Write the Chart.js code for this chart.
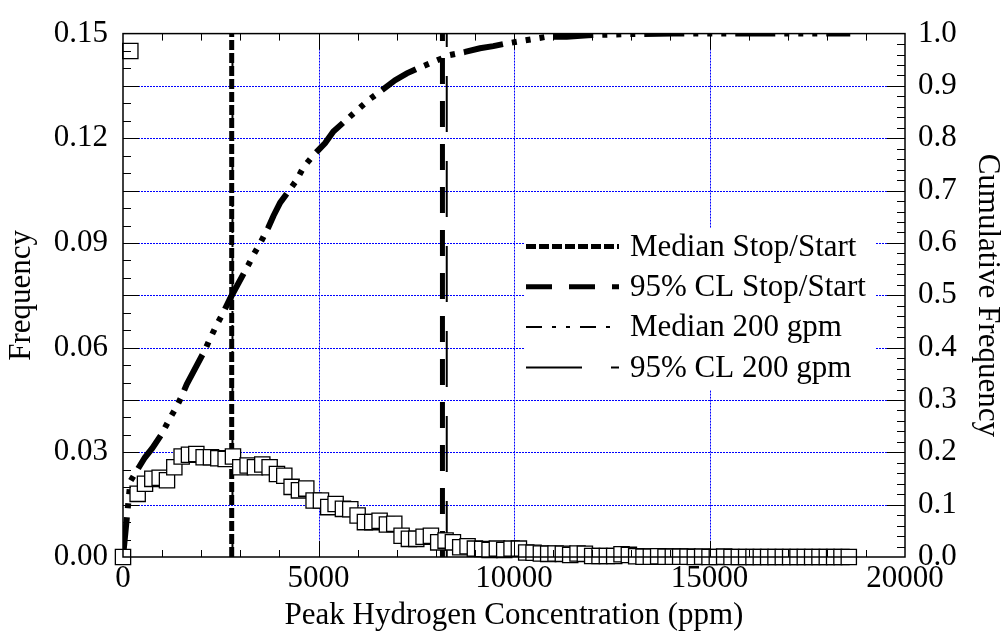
<!DOCTYPE html>
<html>
<head>
<meta charset="utf-8">
<script src="https://cdn.jsdelivr.net/npm/chart.js@4.4.1/dist/chart.umd.min.js"></script>
<style>
  html, body { margin: 0; padding: 0; background: #fff; }
  #wrap { width: 1008px; height: 637px; }
</style>
</head>
<body>
<div id="wrap"><canvas id="grafico" width="1008" height="637"></canvas></div>
<script>
// bins de concentracion (ppm)
var binCenters = [
    0, 187.5, 375, 562.5, 750, 937.5, 1125, 1312.5, 1500, 1687.5,
    1875, 2062.5, 2250, 2437.5, 2625, 2812.5, 3000, 3187.5, 3375, 3562.5,
    3750, 3937.5, 4125, 4312.5, 4500, 4687.5, 4875, 5062.5, 5250, 5437.5,
    5625, 5812.5, 6000, 6187.5, 6375, 6562.5, 6750, 6937.5, 7125, 7312.5,
    7500, 7687.5, 7875, 8062.5, 8250, 8437.5, 8625, 8812.5, 9000, 9187.5,
    9375, 9562.5, 9750, 9937.5, 10125, 10312.5, 10500, 10687.5, 10875, 11062.5,
    11250, 11437.5, 11625, 11812.5, 12000, 12187.5, 12375, 12562.5, 12750, 12937.5,
    13125, 13312.5, 13500, 13687.5, 13875, 14062.5, 14250, 14437.5, 14625, 14812.5,
    15000, 15187.5, 15375, 15562.5, 15750, 15937.5, 16125, 16312.5, 16500, 16687.5,
    16875, 17062.5, 17250, 17437.5, 17625, 17812.5, 18000, 18187.5, 18375, 18562.5
];
var frequency = [
    0, 0.145, 0.0181, 0.021, 0.0224, 0.0227, 0.022, 0.0257, 0.0288, 0.0293,
    0.0295, 0.0286, 0.0286, 0.0283, 0.0281, 0.0288, 0.0257, 0.0262, 0.0257, 0.0265,
    0.0257, 0.0238, 0.0233, 0.0201, 0.0191, 0.0196, 0.0162, 0.0162, 0.0143, 0.0152,
    0.0138, 0.0137, 0.0119, 0.0100, 0.0100, 0.0104, 0.0093, 0.0095, 0.0061, 0.0052,
    0.0052, 0.0058, 0.0061, 0.0042, 0.0047, 0.0042, 0.0028, 0.0031, 0.0024, 0.0023,
    0.0020, 0.0024, 0.0020, 0.0024, 0.0024, 0.0013, 0.0012, 0.0010, 0.0009, 0.0010,
    0.0009, 0.0006, 0.0010, 0.0009, 0.0003, 0.0003, 0.0003, 0.0003, 0.0008, 0.0006,
    0.0002, 0.0001, 0.0001, 0.0002, 0.0001, 0.0001, 0.0001, 0.0001, 0, 0.0001,
    0, 0, 0.0001, 0, 0, 0, 0, 0, 0, 0,
    0, 0, 0, 0, 0, 0, 0, 0, 0, 0
];
// curva acumulada
var cumulX = [0, 190, 330, 560, 750, 990, 1200, 1355, 1500, 1630, 2100, 2230, 2400, 2550, 2740,
    3200, 3350, 3520, 3720, 3850, 4020, 4440, 4610, 4850, 5170, 5380, 6280, 6570, 6960, 7260,
    7550, 8360, 8750, 9130, 9470, 9730, 10840, 11350, 11890, 12880, 14070, 18600];
var cumulY = [0, 0.145, 0.162, 0.19, 0.208, 0.235, 0.265, 0.285, 0.307, 0.33, 0.396, 0.418, 0.444, 0.465, 0.494,
    0.557, 0.579, 0.601, 0.63, 0.652, 0.677, 0.72, 0.744, 0.766, 0.791, 0.813, 0.873, 0.889, 0.911, 0.924,
    0.934, 0.959, 0.965, 0.972, 0.976, 0.98, 0.994, 0.994, 0.997, 0.999, 1.0, 1.0];

var medianStopStart = 2780;
var cl95StopStart = 8170;
var median200 = 2800;
var cl95_200 = 8280;

var xTickValues = [0, 5000, 10000, 15000, 20000];
var freqTickValues = [0, 0.03, 0.06, 0.09, 0.12, 0.15];
var cumTickValues = [0, 0.1, 0.2, 0.3, 0.4, 0.5, 0.6, 0.7, 0.8, 0.9, 1.0];

var fuente = '"Liberation Serif", "Times New Roman", serif';
var tam = 31;

function vertical(x) {
    return [{ x: x, y: 0 }, { x: x, y: 1 }];
}

function linea(ctx, x1, y1, x2, y2) {
    ctx.beginPath();
    ctx.moveTo(x1, y1);
    ctx.lineTo(x2, y2);
    ctx.stroke();
}

var decoracion = {
    id: 'decoracion',
    beforeDatasetsDraw: function (chart) {
        var ctx = chart.ctx, a = chart.chartArea;
        var sx = chart.scales.x, sy = chart.scales.y;
        ctx.save();
        ctx.strokeStyle = '#0000ff';
        ctx.lineWidth = 1;
        ctx.setLineDash([2, 1]);
        for (var k = 1; k < 10; k++) {
            var py = Math.round(sy.getPixelForValue(k * 0.015)) + 0.5;
            linea(ctx, a.left, py, a.right, py);
        }
        [5000, 10000, 15000].forEach(function (v) {
            var px = Math.round(sx.getPixelForValue(v)) + 0.5;
            linea(ctx, px, a.top, px, a.bottom);
        });
        ctx.restore();
    },
    afterDatasetsDraw: function (chart) {
        var ctx = chart.ctx, a = chart.chartArea;
        var sx = chart.scales.x, sy = chart.scales.y, sy1 = chart.scales.y1;
        ctx.save();
        ctx.strokeStyle = '#000';
        ctx.lineWidth = 1;
        ctx.setLineDash([]);
        // marcas eje x (arriba y abajo)
        for (var v = 1000; v < 20000; v += 1000) {
            var px = Math.round(sx.getPixelForValue(v)) + 0.5;
            var l = (v % 5000 === 0) ? 16 : 7;
            linea(ctx, px, a.bottom, px, a.bottom - l);
            linea(ctx, px, a.top, px, a.top + l);
        }
        // marcas eje izquierdo
        for (var k = 1; k < 30; k++) {
            var py = Math.round(sy.getPixelForValue(k * 0.005)) + 0.5;
            linea(ctx, a.left, py, a.left + (k % 3 === 0 ? 16 : 8), py);
        }
        // marcas eje derecho
        for (var j = 1; j < 50; j++) {
            var py2 = Math.round(sy1.getPixelForValue(j * 0.02)) + 0.5;
            linea(ctx, a.right, py2, a.right - (j % 5 === 0 ? 18 : 8), py2);
        }
        ctx.lineWidth = 1.5;
        ctx.strokeRect(a.left, a.top, a.right - a.left, a.bottom - a.top);

        // leyenda
        ctx.fillStyle = '#fff';
        ctx.fillRect(524, 228, 352, 162);
        ctx.font = tam + 'px ' + fuente;
        ctx.textBaseline = 'middle';
        ctx.textAlign = 'left';
        ctx.fillStyle = '#000';
        var fila = 0;
        chart.data.datasets.forEach(function (ds) {
            if (!ds.label) return;
            var y = 246.5 + fila * 40.3;
            ctx.strokeStyle = ds.borderColor;
            ctx.lineWidth = ds.borderWidth;
            ctx.lineCap = 'butt';
            ctx.setLineDash(ds.borderDash || []);
            linea(ctx, 526, y, 619, y);
            ctx.setLineDash([]);
            ctx.fillText(ds.label, 630, y + 1);
            fila++;
        });
        ctx.restore();
    }
};

var freqPoints = binCenters.map(function (x, i) { return { x: x, y: frequency[i] }; });
var cumPoints = cumulX.map(function (x, i) { return { x: x, y: cumulY[i] }; });

var ctx = document.getElementById('grafico').getContext('2d');
window.miGrafico = new Chart(ctx, {
    type: 'scatter',
    data: {
        datasets: [{
            data: freqPoints,
            yAxisID: 'y',
            pointStyle: 'rect',
            pointRadius: 10.8,
            pointBackgroundColor: '#fff',
            pointBorderColor: '#000',
            pointBorderWidth: 1.3,
            showLine: false,
            clip: false
        }, {
            data: cumPoints,
            yAxisID: 'y1',
            showLine: true,
            borderColor: '#000',
            borderWidth: 6,
            borderDash: [40, 9, 5, 9, 5, 9, 5, 9],
            borderCapStyle: 'butt',
            pointRadius: 0,
            tension: 0
        }, {
            label: 'Median Stop/Start',
            data: vertical(medianStopStart),
            yAxisID: 'y1',
            showLine: true,
            borderColor: '#000',
            borderWidth: 5,
            borderDash: [10, 3],
            pointRadius: 0
        }, {
            label: '95% CL Stop/Start',
            data: vertical(cl95StopStart),
            yAxisID: 'y1',
            showLine: true,
            borderColor: '#000',
            borderWidth: 5,
            borderDash: [26, 17],
            pointRadius: 0
        }, {
            label: 'Median 200 gpm',
            data: vertical(median200),
            yAxisID: 'y1',
            showLine: true,
            borderColor: '#000',
            borderWidth: 2,
            borderDash: [16, 10, 4, 10, 4, 10],
            pointRadius: 0
        }, {
            label: '95% CL 200 gpm',
            data: vertical(cl95_200),
            yAxisID: 'y1',
            showLine: true,
            borderColor: '#000',
            borderWidth: 2,
            borderDash: [56, 29],
            pointRadius: 0
        }]
    },
    options: {
        responsive: false,
        animation: false,
        devicePixelRatio: 1,
        layout: { padding: 0 },
        plugins: {
            legend: { display: false },
            tooltip: { enabled: false }
        },
        scales: {
            x: {
                type: 'linear',
                position: 'bottom',
                min: 0,
                max: 20000,
                afterBuildTicks: function (s) { s.ticks = xTickValues.map(function (v) { return { value: v }; }); },
                afterFit: function (s) { s.height = 80; },
                ticks: {
                    font: { family: fuente, size: tam }, color: '#000', padding: 3, maxRotation: 0,
                    callback: function (v) { return String(v); }
                },
                grid: { display: false, drawTicks: false },
                border: { display: false },
                title: {
                    display: true,
                    text: 'Peak Hydrogen Concentration (ppm)',
                    font: { family: fuente, size: tam },
                    color: '#000',
                    padding: { top: 0, bottom: 3 }
                }
            },
            x2: {
                type: 'linear',
                position: 'top',
                min: 0,
                max: 20000,
                afterFit: function (s) { s.height = 30; },
                ticks: { display: false },
                grid: { display: false, drawTicks: false },
                border: { display: false }
            },
            y: {
                type: 'linear',
                position: 'left',
                min: 0,
                max: 0.15,
                afterBuildTicks: function (s) { s.ticks = freqTickValues.map(function (v) { return { value: v }; }); },
                afterFit: function (s) { s.width = 123; },
                ticks: {
                    font: { family: fuente, size: tam }, color: '#000', padding: 15,
                    callback: function (v) { return v.toFixed(2); }
                },
                grid: { display: false, drawTicks: false },
                border: { display: false },
                title: {
                    display: true,
                    text: 'Frequency',
                    font: { family: fuente, size: tam },
                    color: '#000',
                    padding: { top: 3, bottom: 0 }
                }
            },
            y1: {
                type: 'linear',
                position: 'right',
                min: 0,
                max: 1,
                afterBuildTicks: function (s) { s.ticks = cumTickValues.map(function (v) { return { value: v }; }); },
                afterFit: function (s) { s.width = 103; },
                ticks: {
                    font: { family: fuente, size: tam }, color: '#000', padding: 13,
                    callback: function (v) { return v.toFixed(1); }
                },
                grid: { display: false, drawTicks: false },
                border: { display: false },
                title: {
                    display: true,
                    text: 'Cumulative Frequency',
                    font: { family: fuente, size: tam },
                    color: '#000',
                    padding: { top: 2, bottom: 0 }
                }
            }
        }
    },
    plugins: [decoracion]
});
</script>
</body>
</html>
